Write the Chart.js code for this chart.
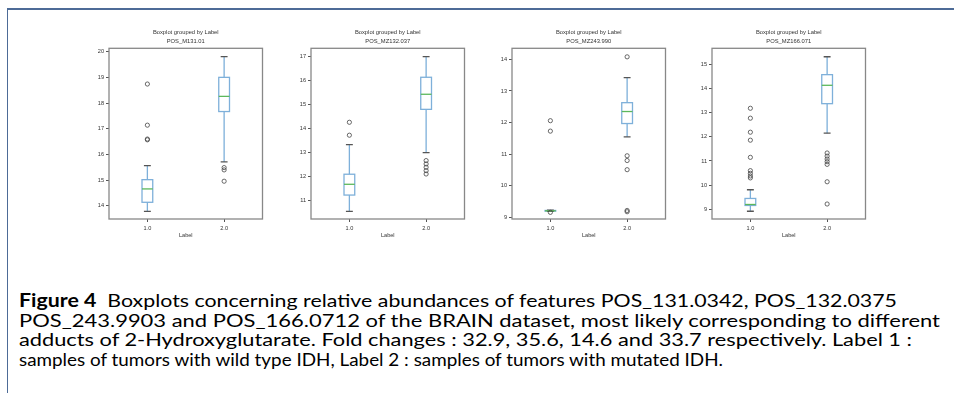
<!DOCTYPE html>
<html>
<head>
<meta charset="utf-8">
<script src="https://cdn.jsdelivr.net/npm/chart.js@4.4.0/dist/chart.umd.min.js"></script>
<style>
  body { margin: 0; width: 954px; height: 393px; background: #fff; position: relative; overflow: hidden; }
  .rule-top { position: absolute; left: 7px; top: 8px; width: 947px; height: 2px; background: #4d6b97; }
  .rule-left { position: absolute; left: 7px; top: 8px; width: 1px; height: 385px; background: #4d6b97; }
  canvas.panel { position: absolute; top: 20px; }
  .caption { position: absolute; left: 19px; top: 291px; font: 18px Lato, "Liberation Sans", sans-serif; line-height: 19.5px; color: #000; }
  .caption div { white-space: nowrap; width: max-content; transform-origin: 0 0; }
  .caption b { font-weight: bold; }
</style>
</head>
<body>
<div class="rule-top"></div>
<div class="rule-left"></div>
<canvas class="panel" id="p1" width="194" height="229" style="left:79px"></canvas>
<canvas class="panel" id="p2" width="194" height="229" style="left:281px"></canvas>
<canvas class="panel" id="p3" width="194" height="229" style="left:482px"></canvas>
<canvas class="panel" id="p4" width="194" height="229" style="left:682px"></canvas>
<div class="caption" id="caption">
  <div><b>Figure 4</b>&nbsp; Boxplots concerning relative abundances of features POS_131.0342, POS_132.0375</div>
  <div>POS_243.9903 and POS_166.0712 of the BRAIN dataset, most likely corresponding to different</div>
  <div>adducts of 2-Hydroxyglutarate. Fold changes : 32.9, 35.6, 14.6 and 33.7 respectively. Label 1 :</div>
  <div>samples of tumors with wild type IDH, Label 2 : samples of tumors with mutated IDH.</div>
</div>
<script>
// group positions on the x axis
const groups = [1, 2];
const groupLabels = ['1.0', '2.0'];

// box stats per group: [low whisker, Q1, median, Q3, high whisker]
const m131Stats = [[13.79, 14.14, 14.66, 15.02, 15.57], [15.71, 17.67, 18.26, 19.0, 19.81]];
const m131Out = [[18.74, 17.14, 16.6, 16.57], [15.49, 15.4, 14.96]];
const m131Ticks = [14, 15, 16, 17, 18, 19, 20];

const mz132Stats = [[10.54, 11.22, 11.67, 12.09, 13.33], [12.99, 14.8, 15.43, 16.14, 17.0]];
const mz132Out = [[14.26, 13.72], [12.66, 12.52, 12.38, 12.24, 12.1]];
const mz132Ticks = [11, 12, 13, 14, 15, 16, 17];

const mz243Stats = [[9.19, 9.2, 9.21, 9.22, 9.23], [11.55, 11.97, 12.35, 12.63, 13.42]];
const mz243Out = [[12.06, 11.73, 9.16], [14.08, 10.95, 10.8, 10.51, 9.22, 9.18]];
const mz243Ticks = [9, 10, 11, 12, 13, 14];

const mz166Stats = [[8.92, 9.16, 9.2, 9.45, 9.81], [12.15, 13.37, 14.13, 14.57, 15.31]];
const mz166Out = [[13.18, 12.77, 12.19, 11.86, 11.15, 10.6, 10.49, 10.38, 10.3], [11.33, 11.2, 11.08, 10.97, 10.86, 10.14, 9.22]];
const mz166Ticks = [9, 10, 11, 12, 13, 14, 15];

const boxWidth = 0.14;
const capWidth = 0.09;

const boxStats = { p1: m131Stats, p2: mz132Stats, p3: mz243Stats, p4: mz166Stats };

// right end (px) of each caption line in the figure
const captionEnds = [897, 940, 912, 723];

const boxPlugin = {
  id: 'boxes',
  beforeDatasetsDraw(chart) {
    const { ctx, scales: { x, y } } = chart;
    const stats = boxStats[chart.canvas.id];
    ctx.save();
    stats.forEach((s, i) => {
      const [lo, q1, med, q3, hi] = s;
      const cx = x.getPixelForValue(groups[i]);
      const bw = x.getPixelForValue(groups[i] + boxWidth / 2) - cx;
      const cw = x.getPixelForValue(groups[i] + capWidth / 2) - cx;
      const yLo = y.getPixelForValue(lo), yQ1 = y.getPixelForValue(q1), yMed = y.getPixelForValue(med);
      const yQ3 = y.getPixelForValue(q3), yHi = y.getPixelForValue(hi);
      ctx.strokeStyle = '#7eb0da';
      ctx.lineWidth = 1.3;
      ctx.beginPath();
      ctx.moveTo(cx, yLo); ctx.lineTo(cx, yQ1);
      ctx.moveTo(cx, yQ3); ctx.lineTo(cx, yHi);
      ctx.stroke();
      ctx.strokeRect(cx - bw, yQ3, bw * 2, yQ1 - yQ3);
      ctx.strokeStyle = '#555';
      ctx.beginPath();
      ctx.moveTo(cx - cw, yLo); ctx.lineTo(cx + cw, yLo);
      ctx.moveTo(cx - cw, yHi); ctx.lineTo(cx + cw, yHi);
      ctx.stroke();
      ctx.strokeStyle = '#5cb85c';
      ctx.beginPath();
      ctx.moveTo(cx - bw, yMed); ctx.lineTo(cx + bw, yMed);
      ctx.stroke();
    });
    ctx.restore();
  },
  afterDraw(chart) {
    const { ctx, chartArea: a } = chart;
    ctx.save();
    ctx.strokeStyle = '#888';
    ctx.lineWidth = 1.3;
    ctx.strokeRect(a.left, a.top, a.right - a.left, a.bottom - a.top);
    ctx.restore();
  }
};

function makePanel(id, name, outliers, yMin, yMax, yTicks) {
  const points = [];
  outliers.forEach((list, i) => list.forEach(v => points.push({ x: groups[i], y: v })));
  return new Chart(document.getElementById(id), {
    type: 'scatter',
    data: {
      datasets: [{
        data: points,
        pointRadius: 2.1,
        pointBorderWidth: 0.8,
        pointBorderColor: '#444',
        pointBackgroundColor: 'rgba(0,0,0,0)'
      }]
    },
    plugins: [boxPlugin],
    options: {
      responsive: false,
      animation: false,
      layout: { padding: { left: 0, right: 10.5, top: 0, bottom: 0 } },
      plugins: {
        legend: { display: false },
        tooltip: { enabled: false },
        title: {
          display: true,
          fullSize: false,
          text: ['Boxplot grouped by Label', name],
          color: '#333',
          font: { family: 'Liberation Sans', size: 5.8, weight: 'normal', lineHeight: 9 / 5.8 },
          padding: { top: 8.2, bottom: 2.1 }
        }
      },
      scales: {
        x: {
          type: 'linear',
          min: 0.5,
          max: 2.5,
          afterBuildTicks: a => { a.ticks = groups.map(v => ({ value: v })); },
          afterFit: a => { a.height = 30; },
          ticks: {
            callback: (v) => groupLabels[groups.indexOf(v)],
            font: { family: 'Liberation Sans', size: 5.6 },
            color: '#333',
            padding: 2.6,
            maxRotation: 0
          },
          grid: { drawOnChartArea: false, tickLength: 3, color: '#555' },
          border: { display: false },
          title: {
            display: true,
            text: 'Label',
            color: '#333',
            font: { family: 'Liberation Sans', size: 5.6 },
            padding: { top: 0, bottom: 10 }
          }
        },
        y: {
          min: yMin,
          max: yMax,
          afterBuildTicks: a => { a.ticks = yTicks.map(v => ({ value: v })); },
          afterFit: a => { a.width = 30; },
          ticks: {
            callback: v => String(v),
            font: { family: 'Liberation Sans', size: 5.6 },
            color: '#333',
            padding: 2
          },
          grid: { drawOnChartArea: false, tickLength: 3, color: '#555' },
          border: { display: false }
        }
      }
    }
  });
}

makePanel('p1', 'POS_M131.01', m131Out, 13.49, 20.13, m131Ticks);
makePanel('p2', 'POS_MZ132.037', mz132Out, 10.22, 17.35, mz132Ticks);
makePanel('p3', 'POS_MZ243.990', mz243Out, 8.95, 14.35, mz243Ticks);
makePanel('p4', 'POS_MZ166.071', mz166Out, 8.6, 15.66, mz166Ticks);

// stretch each caption line so it ends where it does in the figure
const capLeft = 19;
document.querySelectorAll('#caption div').forEach((line, i) => {
  const w = line.getBoundingClientRect().width;
  line.style.transform = 'scaleX(' + ((captionEnds[i] - capLeft) / w) + ')';
});
</script>
</body>
</html>
